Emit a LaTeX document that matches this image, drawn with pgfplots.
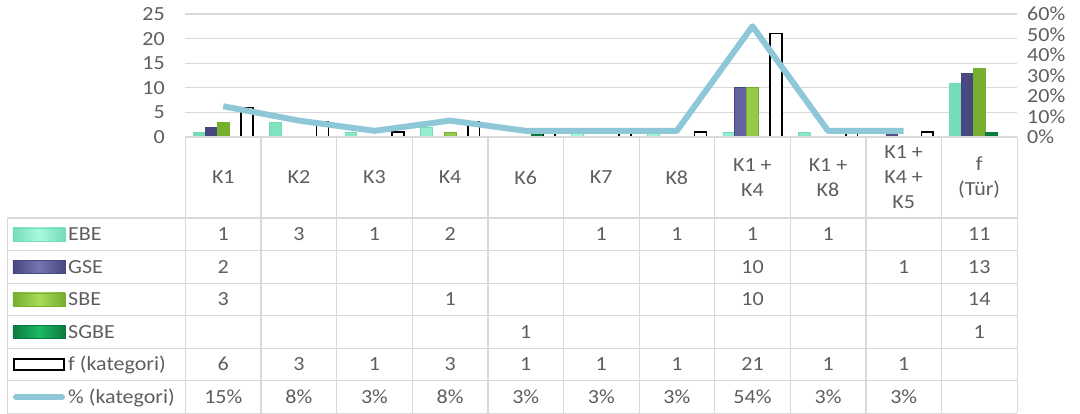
\documentclass[border=0pt]{standalone}
\usepackage{pgfplots}
\pgfplotsset{compat=1.18}
\usepackage{fontspec}
\setmainfont[FakeStretch=1.1]{Carlito}
\definecolor{txt}{HTML}{5E5E5E}
\definecolor{gridc}{HTML}{D9D9D9}
\definecolor{ebe}{HTML}{A8F8DF}
\definecolor{ebeD}{HTML}{74DDB8}
\definecolor{gse}{HTML}{7474B0}
\definecolor{gseD}{HTML}{48487F}
\definecolor{sbe}{HTML}{A8DC58}
\definecolor{sbeD}{HTML}{76AE2E}
\definecolor{sgbe}{HTML}{1DB865}
\definecolor{sgbeD}{HTML}{0B7A40}
\definecolor{pct}{HTML}{8EC7D7}
\newcommand\fnt{\fontsize{20}{25}\selectfont}
\newcommand\tablerow[2]{%
  \foreach \v [count=\c from 0] in {#2} {%
    \node[anchor=base, inner sep=0pt, text=txt, font=\fnt] at (37.8+75.6*\c, #1-6.3) {\v};
  }%
}
\begin{document}
\begin{tikzpicture}[x=1pt,y=1pt]
\useasboundingbox (-185.5,-277) rectangle (894.5,137);
% main axis with bars
\begin{axis}[
  at={(0,0)}, anchor=south west,
  scale only axis, width=831.5pt, height=123pt,
  xmin=-0.5, xmax=10.5, ymin=0, ymax=25,
  ybar=0pt, bar width=11.8pt,
  axis line style={draw=none},
  major tick length=0pt,
  ytick={0,5,...,25},
  ymajorgrids, grid style={gridc, line width=1.2pt},
  xtick={0,...,10},
  xticklabels={K1,K2,K3,K4,K6,K7,K8,{K1 +\\K4},{K1 +\\K8},{K1 +\\K4 +\\K5},{f\\(Tür)}},
  xticklabel style={inner sep=0pt, anchor=center, yshift=-40.5pt, align=center, text=txt, font=\fnt},
  yticklabel style={inner sep=0pt, anchor=east, xshift=-20.5pt, text=txt, font=\fnt},
  /pgf/number format/assume math mode=true,
]
\addplot[draw=ebeD, left color=ebeD, right color=ebeD, middle color=ebe, line width=0.6pt]
  coordinates {(0,1)(1,3)(2,1)(3,2)(5,1)(6,1)(7,1)(8,1)(10,11)};
\addplot[draw=gseD, left color=gseD, right color=gseD, middle color=gse, line width=0.6pt]
  coordinates {(0,2)(7,10)(9,1)(10,13)};
\addplot[draw=sbeD, left color=sbeD, right color=sbeD, middle color=sbe, line width=0.6pt]
  coordinates {(0,3)(3,1)(7,10)(10,14)};
\addplot[draw=sgbeD, left color=sgbeD, right color=sgbeD, middle color=sgbe, line width=0.6pt]
  coordinates {(4,1)(10,1)};
\addplot[draw=black, fill=white, line width=1.6pt]
  coordinates {(0,6)(1,3)(2,1)(3,3)(4,1)(5,1)(6,1)(7,21)(8,1)(9,1)};
\end{axis}
% secondary axis with the percentage line
\begin{axis}[
  at={(0,0)}, anchor=south west,
  scale only axis, width=831.5pt, height=123pt,
  xmin=-0.5, xmax=10.5, ymin=0, ymax=60,
  axis line style={draw=none},
  major tick length=0pt,
  xtick=\empty,
  ytick={0,10,...,60},
  yticklabel pos=right,
  yticklabel={\pgfmathprintnumber[assume math mode=true]{\tick}\%},
  yticklabel style={inner sep=0pt, anchor=west, xshift=10pt, text=txt, font=\fnt},
  clip=false,
]
\addplot[pct, line width=6pt, line join=round]
  coordinates {(0,15)(1,8)(2,3)(3,8)(4,3)(5,3)(6,3)(7,54)(8,3)(9,3)};
\end{axis}
% data table grid
\begin{scope}[draw=gridc, line width=1.2pt]
  \foreach \i in {0,...,11} \draw (75.6*\i,0) -- (75.6*\i,-276.5);
  \draw (-178,-81) -- (-178,-276.5);
  \draw (0,0) -- (831.5,0);
  \foreach \r in {0,...,6} \draw (-178,-81-32.58*\r) -- (831.5,-81-32.58*\r);
\end{scope}
% legend keys
\def\yc#1{-81-32.58*#1-16.29}
\shade[left color=ebeD, right color=ebeD, middle color=ebe, draw=ebeD] (-172.5,{\yc{0}-6.5}) rectangle (-120.5,{\yc{0}+6.5});
\shade[left color=gseD, right color=gseD, middle color=gse, draw=gseD] (-172.5,{\yc{1}-6.5}) rectangle (-120.5,{\yc{1}+6.5});
\shade[left color=sbeD, right color=sbeD, middle color=sbe, draw=sbeD] (-172.5,{\yc{2}-6.5}) rectangle (-120.5,{\yc{2}+6.5});
\shade[left color=sgbeD, right color=sgbeD, middle color=sgbe, draw=sgbeD] (-172.5,{\yc{3}-6.5}) rectangle (-120.5,{\yc{3}+6.5});
\draw[black, fill=white, line width=1.6pt] (-171.5,{\yc{4}-5.5}) rectangle (-121.5,{\yc{4}+5.5});
\draw[pct, line width=6pt, line cap=round] (-169.5,{\yc{5}}) -- (-123.5,{\yc{5}});
\foreach \t [count=\r from 0] in {EBE,GSE,SBE,SGBE,f (kategori),\% (kategori)}
  \node[anchor=base west, inner sep=0pt, text=txt, font=\fnt] at (-117.5,{\yc{\r}-6.3}) {\t};
% table values
\tablerow{\yc{0}}{1,3,1,2,,1,1,1,1,,11}
\tablerow{\yc{1}}{2,,,,,,,10,,1,13}
\tablerow{\yc{2}}{3,,,1,,,,10,,,14}
\tablerow{\yc{3}}{,,,,1,,,,,,1}
\tablerow{\yc{4}}{6,3,1,3,1,1,1,21,1,1,}
\tablerow{\yc{5}}{15\%,8\%,3\%,8\%,3\%,3\%,3\%,54\%,3\%,3\%,}
\end{tikzpicture}
\end{document}
